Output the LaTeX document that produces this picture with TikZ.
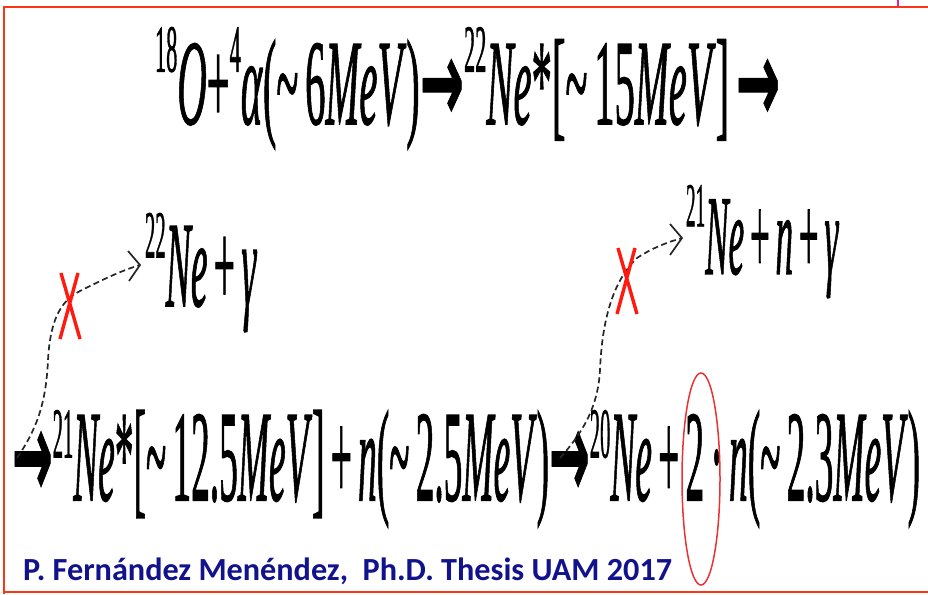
\documentclass[tikz,border=0pt]{standalone}
\usepackage{fontspec}
\setmainfont{Liberation Serif}
\newfontfamily\eqfont{Liberation Serif}[FakeBold=1.3]
\newfontfamily\arrfont{DejaVu Sans}[FakeBold=1]
\newfontfamily\citefont{Carlito}
\usetikzlibrary{arrows.meta,shapes.geometric}
\definecolor{framered}{RGB}{250,55,20}
\definecolor{xred}{RGB}{255,25,15}
\definecolor{ellred}{RGB}{235,50,50}
\definecolor{citeblue}{RGB}{18,18,140}
\definecolor{tickmag}{RGB}{225,35,145}
\newcommand\sups[2][0.43em]{\raisebox{#1}{\scalebox{0.55}{#2}}}
\newcommand\arr{\raisebox{0.02em}{\scalebox{1.3}[0.95]{\arrfont\bfseries →}}}
\newcommand\tl{\textasciitilde}
\tikzset{
  eqline/.style={inner sep=0pt, outer sep=0pt, anchor=south west, font=\eqfont},
  dashconn/.style={black!85, line width=1.7pt, dash pattern=on 6pt off 3.5pt},
  barbtip/.style={black!85, line width=1.7pt, solid, line join=miter},
  xmark/.style={xred, line width=3.4pt},
}
\begin{document}
\begin{tikzpicture}[x=1pt,y=-1pt]
\useasboundingbox (0,0) rectangle (928,594);
% frame
\draw[framered, line width=2.2pt] (4,594) -- (4,7) -- (928,7);
\draw[framered, line width=2.2pt] (4,592) -- (928,592);
\draw[tickmag, line width=2pt] (898,0) -- (898,7);

% equation lines
\node[eqline] (l1) at (155,150) {\resizebox*{625pt}{123pt}{%
  \sups{18}\textit{O}+\sups{4}\textit{α}(\tl\,6\textit{MeV})\arr\sups{22}\textit{Ne}*[\tl\,15\textit{MeV}]\,\arr}};
\node[eqline] (l2a) at (145,332) {\resizebox*{112pt}{119pt}{%
  \sups[0.4em]{22}\textit{Ne}\,+\,\textit{γ}}};
\node[eqline] (l2b) at (686,298) {\resizebox*{153pt}{113pt}{%
  \sups[0.42em]{21}\textit{Ne}\,+\,\textit{n}\,+\,\textit{γ}}};
\node[eqline] (l3) at (12,528) {\resizebox*{908pt}{118pt}{%
  \arr\sups[0.33em]{21}\textit{Ne}*[\tl\,12.5\textit{MeV}]\,+\,\textit{n}(\tl\,2.5\textit{MeV})\arr\sups[0.33em]{20}\textit{Ne}\,+\,2\,·\,\textit{n}(\tl\,2.3\textit{MeV})}};

% citation
\node[inner sep=0pt, anchor=base west, citeblue] (cite) at (23,580)
  {\resizebox{649pt}{!}{\citefont\bfseries P. Fernández Menéndez,\ \ Ph.D. Thesis UAM 2017}};

% red ellipse around the 2
\node[draw=ellred, line width=1.5pt, ellipse, inner sep=0pt,
  minimum width=38pt, minimum height=212pt] (circ2) at (701,479) {};

% dashed branches
\coordinate (s1) at (17,458);
\coordinate (t1) at (140,265);
\draw[dashconn] (s1) .. controls (36,430) and (46,405) .. (48,360)
  .. controls (50,325) and (58,302) .. (80,291)
  .. controls (100,281) and (120,271) .. (t1);
\draw[barbtip] ([shift={(-12,-14)}]t1) -- (t1) -- ([shift={(-11,16)}]t1);
\coordinate (s2) at (560,458);
\coordinate (t2) at (682,238);
\draw[dashconn] (s2) .. controls (585,430) and (598,405) .. (600,370)
  .. controls (602,322) and (612,282) .. (637,258)
  .. controls (652,248) and (668,242) .. (t2);
\draw[barbtip] ([shift={(-12,-14)}]t2) -- (t2) -- ([shift={(-12,17)}]t2);

% red X marks
\draw[xmark] (61,273) -- (80,339) (78,273) -- (60,339);
\draw[xmark] (618,248) -- (637,314) (635,248) -- (617,314);
\end{tikzpicture}
\end{document}
